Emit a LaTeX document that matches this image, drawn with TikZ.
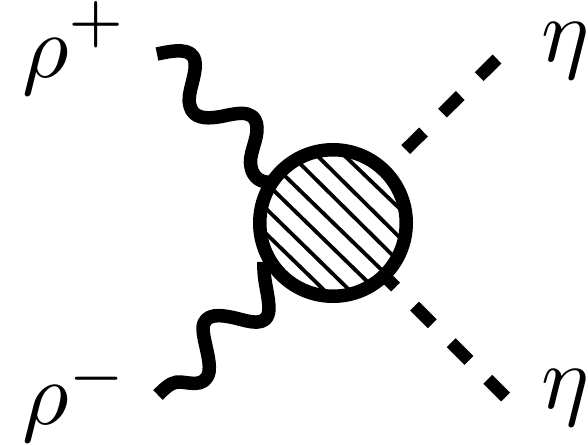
\documentclass[tikz,border=0pt]{standalone}
\usepackage{graphicx}
\tikzset{
  wave/.style={line width=13.5pt,line join=round},
  scalar/.style={line width=12.5pt,dash pattern=on 25pt off 26.8pt},
  hatchline/.style={line width=3.8pt,shorten >=-6pt,shorten <=-6pt},
  blobnode/.style={circle,draw,fill=white,line width=13.5pt,minimum size=146.5pt,inner sep=0pt,outer sep=0pt},
  lab/.style={anchor=base west,inner sep=0pt,outer sep=0pt}
}
\begin{document}
\begin{tikzpicture}[x=1pt,y=-1pt]
\useasboundingbox (0,0) rectangle (588,444);
\coordinate (c) at (333,223);
\coordinate (wa) at (157,54);
\coordinate (wae) at (270,182);
\coordinate (wb) at (158,395);
\coordinate (wbe) at (264,262);
\coordinate (sa) at (497,59);
\coordinate (sae) at (405.5,149.8);
\coordinate (sb) at (505.5,397);
\coordinate (sbe) at (378,269.5);
\draw[wave] (wa) .. controls (172,51) and (193,46) .. (195,62)
  .. controls (197,75) and (186,95) .. (190,106)
  .. controls (193,118) and (205,119) .. (218,117)
  .. controls (232,115) and (255,106) .. (257,127)
  .. controls (258,140) and (248,155) .. (251,167)
  .. controls (253,178) and (262,183) .. (wae);
\draw[wave] (wb) .. controls (164,389) and (170,383) .. (177,382)
  .. controls (186,381) and (205,390) .. (209,372)
  .. controls (211,360) and (203,340) .. (203,328)
  .. controls (204,312) and (222,315) .. (235,318)
  .. controls (248,321) and (268,329) .. (269,309)
  .. controls (269,295) and (263,280) .. (wbe);
\draw[scalar] (sa) -- (sae);
\draw[scalar] (sb) -- (sbe);
\node[blobnode] (blob) at (c) {};
\begin{scope}
\clip (c) circle (70pt);
\draw[hatchline] (348.3,159.3) -- (398.3,207.3);
\draw[hatchline] (319.3,157.7) -- (398.3,236);
\draw[hatchline] (300.7,164.3) -- (392.3,255);
\draw[hatchline] (285,176) -- (380.7,269);
\draw[hatchline] (274,190.7) -- (366.7,281);
\draw[hatchline] (266.7,209.3) -- (348.3,289);
\draw[hatchline] (265.7,233.3) -- (323.3,289.3);
\end{scope}
\node[lab] (rhop) at (22,77) {\scalebox{9}{$\rho^{\raisebox{0.4pt}{$\scriptstyle+$}}$}};
\node[lab] (rhom) at (22,424) {\scalebox{9}{$\rho^{\raisebox{-0.3pt}{$\scriptstyle-$}}$}};
\node[lab] (etaa) at (541,61) {\scalebox{9}{$\eta$}};
\node[lab] (etab) at (541,408) {\scalebox{9}{$\eta$}};
\end{tikzpicture}
\end{document}
